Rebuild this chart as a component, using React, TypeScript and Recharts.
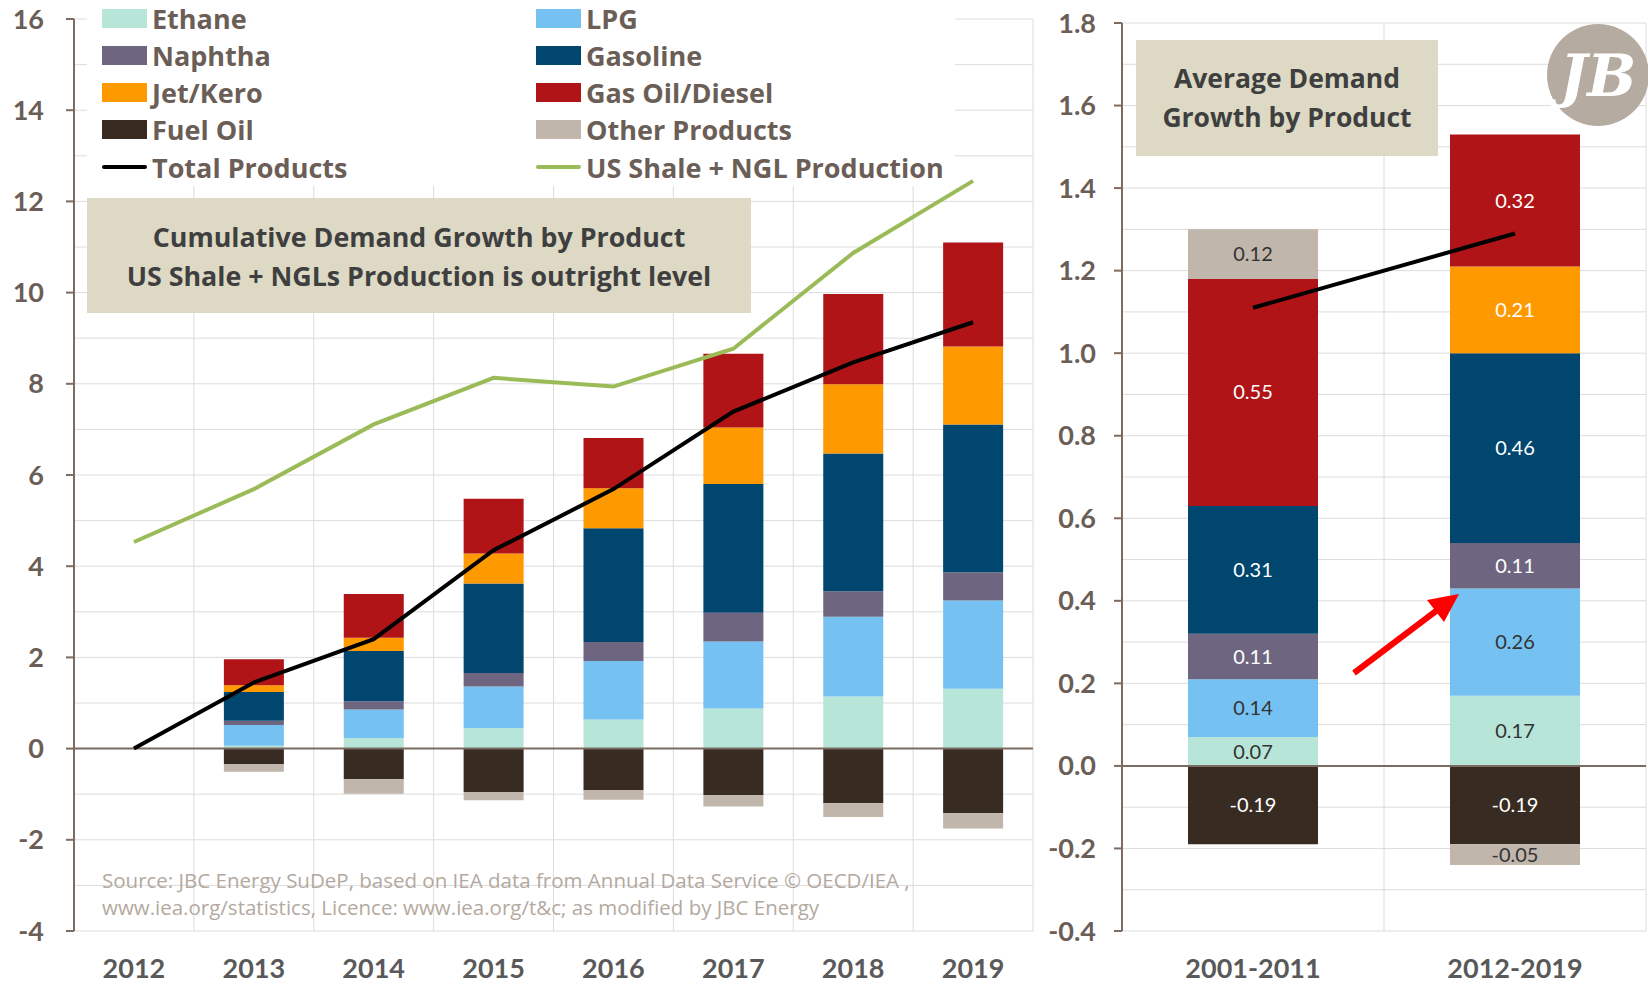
import React from 'react';
import { ComposedChart, Bar, Line, XAxis, YAxis, CartesianGrid, ReferenceLine, LabelList } from 'recharts';

const FONT = 'Lato, "Open Sans", sans-serif';
const WIDE = '"Open Sans", Lato, sans-serif';
const TEXT = '#6B5E57';
const AXIS = '#7B6B60';
const GRID = '#DCDCDC';

// cumulative demand growth (left panel)
const years = ['2012', '2013', '2014', '2015', '2016', '2017', '2018', '2019'];
const ethane = [0, 0.06, 0.23, 0.45, 0.64, 0.88, 1.14, 1.31];
const lpg = [0, 0.46, 0.63, 0.91, 1.28, 1.47, 1.75, 1.94];
const naphtha = [0, 0.09, 0.18, 0.3, 0.42, 0.63, 0.56, 0.62];
const gasoline = [0, 0.63, 1.1, 1.96, 2.49, 2.82, 3.02, 3.24];
const jetKero = [0, 0.15, 0.29, 0.66, 0.88, 1.24, 1.52, 1.71];
const gasOil = [0, 0.57, 0.96, 1.2, 1.1, 1.62, 1.98, 2.28];
const fuelOil = [0, -0.34, -0.67, -0.95, -0.91, -1.02, -1.2, -1.42];
const otherProducts = [0, -0.17, -0.32, -0.18, -0.21, -0.25, -0.3, -0.33];
const totalProducts = [0, 1.45, 2.4, 4.35, 5.69, 7.39, 8.47, 9.35];
const usShaleNgl = [4.53, 5.69, 7.11, 8.13, 7.94, 8.77, 10.87, 12.45];

const leftTicks = [-4, -2, 0, 2, 4, 6, 8, 10, 12, 14, 16];
const leftGrid = [-4, -3, -2, -1, 0, 1, 2, 3, 4, 5, 6, 7, 8, 9, 10, 11, 12, 13, 14, 15, 16];

// average demand growth (right panel)
const periods = ['2001-2011', '2012-2019'];
const avgEthane = [0.07, 0.17];
const avgLpg = [0.14, 0.26];
const avgNaphtha = [0.11, 0.11];
const avgGasoline = [0.31, 0.46];
const avgJetKero = [0.0, 0.21];
const avgGasOil = [0.55, 0.32];
const avgFuelOil = [-0.19, -0.19];
const avgOther = [0.12, -0.05];
const avgTotal = [1.11, 1.29];

const rightTicks = [-0.4, -0.2, 0, 0.2, 0.4, 0.6, 0.8, 1.0, 1.2, 1.4, 1.6, 1.8];
const rightGrid = [-0.4, -0.3, -0.2, -0.1, 0, 0.1, 0.2, 0.3, 0.4, 0.5, 0.6, 0.7, 0.8, 0.9, 1.0, 1.1, 1.2, 1.3, 1.4, 1.5, 1.6, 1.7, 1.8];

const series = [
  { key: 'ethane', name: 'Ethane', color: '#B7E6D8', label: '#333333' },
  { key: 'lpg', name: 'LPG', color: '#75C2F2', label: '#333333' },
  { key: 'naphtha', name: 'Naphtha', color: '#6E6680', label: '#FFFFFF' },
  { key: 'gasoline', name: 'Gasoline', color: '#00466E', label: '#FFFFFF' },
  { key: 'jetKero', name: 'Jet/Kero', color: '#FF9900', label: '#FFFFFF' },
  { key: 'gasOil', name: 'Gas Oil/Diesel', color: '#B01416', label: '#FFFFFF' },
  { key: 'fuelOil', name: 'Fuel Oil', color: '#372B22', label: '#FFFFFF' },
  { key: 'other', name: 'Other Products', color: '#C0B6AB', label: '#333333' },
];

const leftData = years.map((year, i) => ({
  year,
  ethane: ethane[i],
  lpg: lpg[i],
  naphtha: naphtha[i],
  gasoline: gasoline[i],
  jetKero: jetKero[i],
  gasOil: gasOil[i],
  fuelOil: fuelOil[i],
  other: otherProducts[i],
  total: totalProducts[i],
  shale: usShaleNgl[i],
}));

const rightData = periods.map((period, i) => ({
  period,
  ethane: avgEthane[i],
  lpg: avgLpg[i],
  naphtha: avgNaphtha[i],
  gasoline: avgGasoline[i],
  jetKero: avgJetKero[i],
  gasOil: avgGasOil[i],
  fuelOil: avgFuelOil[i],
  other: avgOther[i],
  total: avgTotal[i],
}));

const boundaries = (n: number) => ({ offset }: any) =>
  Array.from({ length: n + 1 }, (_, i) => offset.left + (offset.width * i) / n);

const legendLeft = [
  { name: 'Ethane', color: '#B7E6D8' },
  { name: 'Naphtha', color: '#6E6680' },
  { name: 'Jet/Kero', color: '#FF9900' },
  { name: 'Fuel Oil', color: '#372B22' },
  { name: 'Total Products', color: '#000000', line: true },
];
const legendRight = [
  { name: 'LPG', color: '#75C2F2' },
  { name: 'Gasoline', color: '#00466E' },
  { name: 'Gas Oil/Diesel', color: '#B01416' },
  { name: 'Other Products', color: '#C0B6AB' },
  { name: 'US Shale + NGL Production', color: '#9BBB59', line: true },
];

const LegendCol = ({ items, left }: { items: any[]; left: number }) => (
  <div style={{ position: 'absolute', left, top: 0 }}>
    {items.map((it, i) => (
      <div key={it.name} style={{ position: 'absolute', top: i * 37.3, left: 0, height: 36, display: 'flex', alignItems: 'center', whiteSpace: 'nowrap' }}>
        {it.line ? (
          <div style={{ width: 45, height: 4, borderRadius: 2, background: it.color, marginRight: 5 }} />
        ) : (
          <div style={{ width: 45, height: 19, background: it.color, marginRight: 5 }} />
        )}
        <span style={{ fontFamily: WIDE, fontWeight: 700, fontSize: 27, color: TEXT }}>{it.name}</span>
      </div>
    ))}
  </div>
);

const tickStyle = { fill: TEXT, fontSize: 27, fontWeight: 700, fontFamily: FONT };
const xTickStyle = { fill: '#595959', fontSize: 27, fontWeight: 700, fontFamily: FONT };

const App = () => {
  return (
    <div style={{ position: 'absolute', left: 0, top: 0, width: 1648, height: 986, background: '#fff' }}>
      <div style={{ position: 'absolute', left: 0, top: 0 }}>
        <ComposedChart width={1040} height={986} data={leftData} stackOffset="sign" barSize={60}
          margin={{ top: 19, right: 7, bottom: 0, left: 0 }}>
          <CartesianGrid stroke={GRID} horizontalValues={leftGrid} verticalCoordinatesGenerator={boundaries(8)} />
          <XAxis dataKey="year" axisLine={false} tickLine={false} tickSize={0} tickMargin={28} height={55} tick={xTickStyle} interval={0} />
          <YAxis domain={[-4, 16]} ticks={leftTicks} width={74} tick={tickStyle} allowDataOverflow
            axisLine={{ stroke: AXIS, strokeWidth: 2 }} tickLine={{ stroke: AXIS, strokeWidth: 2 }} tickSize={8} tickMargin={22} />
          {series.map((s) => (
            <Bar key={s.key} dataKey={s.key} name={s.name} stackId="a" fill={s.color} isAnimationActive={false} />
          ))}
          <ReferenceLine y={0} stroke={AXIS} strokeWidth={2} />
          <Line dataKey="total" name="Total Products" stroke="#000000" strokeWidth={4} dot={false} type="linear" isAnimationActive={false} />
          <Line dataKey="shale" name="US Shale + NGL Production" stroke="#9BBB59" strokeWidth={4} dot={false} type="linear" isAnimationActive={false} />
        </ComposedChart>
      </div>

      <div style={{ position: 'absolute', left: 1040, top: 0 }}>
        <ComposedChart width={608} height={986} data={rightData} stackOffset="sign" barSize={130}
          margin={{ top: 23, right: 2, bottom: 0, left: 0 }}>
          <CartesianGrid stroke={GRID} horizontalValues={rightGrid} verticalCoordinatesGenerator={boundaries(2)} />
          <XAxis dataKey="period" axisLine={false} tickLine={false} tickSize={0} tickMargin={28} height={55} tick={xTickStyle} interval={0} />
          <YAxis domain={[-0.4, 1.8]} ticks={rightTicks} width={82} tick={tickStyle} allowDataOverflow
            tickFormatter={(v: number) => v.toFixed(1)}
            axisLine={{ stroke: AXIS, strokeWidth: 2 }} tickLine={{ stroke: AXIS, strokeWidth: 2 }} tickSize={8} tickMargin={18} />
          {series.map((s) => (
            <Bar key={s.key} dataKey={s.key} name={s.name} stackId="a" fill={s.color} isAnimationActive={false}>
              <LabelList dataKey={s.key} position="center" formatter={(v: any) => Number(v).toFixed(2)}
                fill={s.label} fontSize={20} fontFamily={FONT} />
            </Bar>
          ))}
          <ReferenceLine y={0} stroke={AXIS} strokeWidth={2} />
          <Line dataKey="total" name="Total Products" stroke="#000000" strokeWidth={4} dot={false} type="linear" isAnimationActive={false} />
        </ComposedChart>
      </div>

      {/* legend */}
      <div style={{ position: 'absolute', left: 87, top: 0, width: 868, height: 186, background: '#fff' }}>
        <LegendCol items={legendLeft} left={15} />
        <LegendCol items={legendRight} left={449} />
      </div>

      {/* text boxes */}
      <div style={{ position: 'absolute', left: 87, top: 198, width: 664, height: 115, background: '#DDD9C4', display: 'flex', flexDirection: 'column', alignItems: 'center', justifyContent: 'center', fontFamily: WIDE, fontWeight: 700, fontSize: 26.8, lineHeight: '39px', color: '#3F3F3F' }}>
        <div>Cumulative Demand Growth by Product</div>
        <div>US Shale + NGLs Production is outright level</div>
      </div>
      <div style={{ position: 'absolute', left: 1136, top: 40, width: 302, height: 116, background: '#DDD9C4', display: 'flex', flexDirection: 'column', alignItems: 'center', justifyContent: 'center', fontFamily: WIDE, fontWeight: 700, fontSize: 26.5, lineHeight: '39px', color: '#3F3F3F' }}>
        <div>Average Demand</div>
        <div>Growth by Product</div>
      </div>

      {/* source */}
      <div style={{ position: 'absolute', left: 102, top: 867, fontFamily: WIDE, fontSize: 20.5, lineHeight: '27px', color: '#B3A9A0', whiteSpace: 'nowrap' }}>
        <div>Source: JBC Energy SuDeP, based on IEA data from Annual Data Service © OECD/IEA ,</div>
        <div>www.iea.org/statistics, Licence: www.iea.org/t&amp;c; as modified by JBC Energy</div>
      </div>

      {/* logo and arrow */}
      <svg width={1648} height={986} style={{ position: 'absolute', left: 0, top: 0, pointerEvents: 'none' }}>
        <circle cx={1598} cy={75} r={51} fill="#B5ABA1" />
        <text x={1598} y={96} textAnchor="middle" fill="#FFFFFF" fontFamily="'DejaVu Serif', serif" fontWeight={700} fontStyle="italic" fontSize={58}>JB</text>
        <line x1={1354} y1={673} x2={1440} y2={608} stroke="#FF0000" strokeWidth={6} />
        <polygon points="1459,594 1427,600 1444,622" fill="#FF0000" />
      </svg>
    </div>
  );
};

export default App;
